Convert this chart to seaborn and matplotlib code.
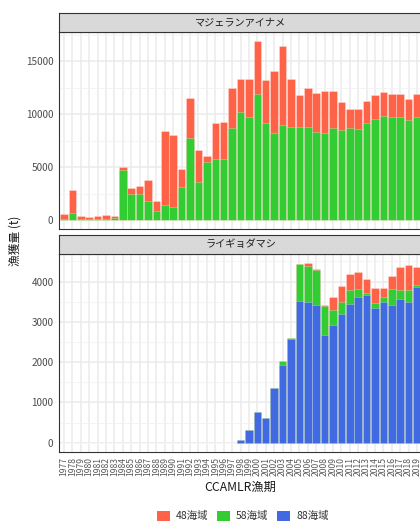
import pandas as pd
import matplotlib
matplotlib.use('Agg')
import matplotlib.pyplot as plt
from matplotlib.patches import Patch
from matplotlib.ticker import MultipleLocator, NullLocator
import seaborn as sns

# --- Data ---
YEARS = [str(y) for y in range(1977, 2020)]

# マジェランアイナメ (Patagonian toothfish), tonnes per area
toothfish_48 = [470, 2120, 300, 160, 275, 375, 250, 250, 530, 720, 2030, 910, 7025, 6810,
                1690, 3780, 3000, 650, 3405, 3530, 3780, 3120, 3590, 5000, 4065, 5780,
                7500, 4500, 3060, 3690, 3690, 4000, 3470, 2660, 1780, 1880, 2155, 2250,
                2220, 2220, 2220, 1940, 2130]
toothfish_58 = [60, 690, 100, 90, 125, 125, 150, 4750, 2500, 2500, 1780, 900, 1375, 1250,
                3090, 7780, 3625, 5440, 5720, 5720, 8690, 10180, 9710, 11900, 9085, 8210,
                8930, 8740, 8710, 8710, 8300, 8150, 8680, 8460, 8650, 8550, 9085, 9490,
                9800, 9650, 9650, 9430, 9710]
toothfish_88 = [0] * 21 + [40] * 22

# ライギョダマシ (Antarctic toothfish)
antarctic_48 = [0] * 29 + [66, 24, 16, 321, 404, 387, 411, 354, 386, 238, 337, 552, 609, 444]
antarctic_58 = [0] * 26 + [115, 25, 914, 897, 856, 724, 378, 280, 346, 206, 58, 107, 124,
                           404, 230, 321, 58]
antarctic_88 = [0] * 21 + [58, 305, 757, 625, 1350, 1918, 2576, 3522, 3498, 3424, 2675,
                           2922, 3201, 3448, 3613, 3654, 3350, 3481, 3407, 3572, 3481, 3868]

AREAS = ['48海域', '58海域', '88海域']
COLORS = {'48海域': '#FF6347', '58海域': '#32CD32', '88海域': '#4169E1'}

W, H = 420, 523
LEFT, RIGHT = 59, 422


def fig_box(top_px, bottom_px):
    return [LEFT / W, 1 - bottom_px / H, (RIGHT - LEFT) / W, (bottom_px - top_px) / H]


def draw_strip(fig, top_px, bottom_px, label):
    sax = fig.add_axes(fig_box(top_px, bottom_px))
    sax.set_facecolor('#D9D9D9')
    sax.set_xticks([])
    sax.set_yticks([])
    for sp in sax.spines.values():
        sp.set_color('#333333')
        sp.set_linewidth(0.8)
    sax.text(0.5, 0.5, label, ha='center', va='center', fontsize=7.3, color='#1A1A1A',
             transform=sax.transAxes)


def draw_panel(ax, b, g, r, major, show_x):
    df = pd.DataFrame({'year': YEARS, 'b': b, 'g': g, 'r': r})
    df['bg'] = df['b'] + df['g']
    df['bgr'] = df['bg'] + df['r']
    for col, area in [('bgr', '48海域'), ('bg', '58海域'), ('b', '88海域')]:
        sns.barplot(data=df, x='year', y=col, color=COLORS[area], saturation=1,
                    width=0.9, errorbar=None, ax=ax, zorder=2,
                    edgecolor=(1, 1, 1, 0.45), linewidth=0.4)
    top = df['bgr'].max()
    ax.set_ylim(-0.05 * top, 1.05 * top)
    ax.set_xlim(-0.6, len(YEARS) - 0.4)
    ax.yaxis.set_major_locator(MultipleLocator(major))
    ax.yaxis.set_minor_locator(MultipleLocator(major / 2))
    ax.xaxis.set_minor_locator(NullLocator())
    ax.set_axisbelow(True)
    ax.grid(True, which='major', color='#EBEBEB', linewidth=1.1, zorder=0)
    ax.grid(True, which='minor', axis='y', color='#F2F2F2', linewidth=0.6, zorder=0)
    ax.set_facecolor('white')
    for sp in ax.spines.values():
        sp.set_visible(True)
        sp.set_color('#333333')
        sp.set_linewidth(0.8)
    ax.set_xlabel('')
    ax.set_ylabel('')
    ax.tick_params(axis='y', which='major', length=2.5, width=0.6, color='#333333',
                   labelsize=7.2, labelcolor='#4D4D4D', pad=1.5)
    ax.tick_params(which='minor', length=0)
    if show_x:
        ax.tick_params(axis='x', length=2.5, width=0.6, color='#333333', labelsize=6.2,
                       labelcolor='#5A5A5A', pad=1.5, labelrotation=90)
    else:
        ax.tick_params(axis='x', bottom=False, labelbottom=False)


def main():
    sns.set_theme(style='white')
    plt.rcParams['font.family'] = ['Noto Sans CJK JP', 'DejaVu Sans']

    fig = plt.figure(figsize=(W / 100, H / 100), dpi=100)

    ax1 = fig.add_axes(fig_box(31.7, 229))
    draw_panel(ax1, toothfish_88, toothfish_58, toothfish_48, 5000, False)
    draw_strip(fig, 13.3, 31.7, 'マジェランアイナメ')

    ax2 = fig.add_axes(fig_box(254, 451.7))
    draw_panel(ax2, antarctic_88, antarctic_58, antarctic_48, 1000, True)
    draw_strip(fig, 235, 254, 'ライギョダマシ')

    fig.text(15 / W, 1 - 241 / H, '漁獲量 (t)', rotation=90, ha='center', va='center',
             fontsize=8.5, color='#1A1A1A')
    fig.text(240 / W, 1 - 487 / H, 'CCAMLR漁期', ha='center', va='center',
             fontsize=8.8, color='#1A1A1A')

    handles = [Patch(facecolor=COLORS[a], edgecolor='none', label=a) for a in AREAS]
    fig.legend(handles=handles, loc='center', bbox_to_anchor=(243 / W, 1 - 516 / H),
               ncol=3, frameon=False, fontsize=7.5, handlelength=1.2, handleheight=1.2,
               handletextpad=0.6, columnspacing=0.85, labelcolor='#333333')

    fig.savefig('out.png', dpi=100)
    plt.close(fig)


if __name__ == '__main__':
    main()
